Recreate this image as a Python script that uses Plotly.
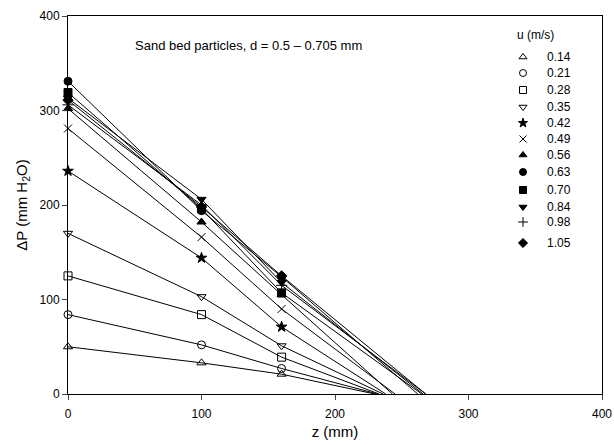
import plotly.graph_objects as go

# ---------------- data ----------------
velocities = ["0.14", "0.21", "0.28", "0.35", "0.42", "0.49",
              "0.56", "0.63", "0.70", "0.84", "0.98", "1.05"]
z_points = [0, 100, 160]
dp_z0 = [50, 84, 125, 170, 236, 281, 302, 331, 319, 313, 306, 311]
dp_z100 = [33, 52, 84, 103, 144, 166, 182, 194, 196, 206, 200, 198]
dp_z160 = [21, 27, 39, 51, 71, 90, 105, 124, 107, 118, 115, 125]
z_bed_end = [230, 232, 233, 236, 238, 245, 243, 262, 265, 266, 268, 268]

symbols = ["triangle-up-open", "circle-open", "square-open", "triangle-down-open",
           "star", "x-thin-open", "triangle-up", "circle", "square",
           "triangle-down", "cross-thin-open", "diamond"]

x_ticks = [0, 100, 200, 300, 400]
y_ticks = [0, 100, 200, 300, 400]

FONT = "Liberation Sans, Arial, sans-serif"

fig = go.Figure()

for i, u in enumerate(velocities):
    zs = z_points + [z_bed_end[i]]
    ps = [dp_z0[i], dp_z100[i], dp_z160[i], 0]
    fig.add_trace(go.Scatter(x=zs, y=ps, mode="lines",
                             line=dict(color="black", width=1),
                             showlegend=False, hoverinfo="skip"))
for i, u in enumerate(velocities):
    ps = [dp_z0[i], dp_z100[i], dp_z160[i]]
    fig.add_trace(go.Scatter(x=z_points, y=ps, mode="markers", name=u,
                             marker=dict(symbol=symbols[i], size=8, color="black",
                                         line=dict(color="black", width=1)),
                             showlegend=False, cliponaxis=False))

# custom legend in pixel-like overlay coordinates
leg_y = [57, 73, 90, 107, 123, 139, 155, 172, 190, 207, 222, 243]
fig.add_trace(go.Scatter(x=[523] * len(velocities), y=leg_y, mode="markers",
                         xaxis="x2", yaxis="y2", showlegend=False, hoverinfo="skip",
                         marker=dict(symbol=symbols, size=7, color="black",
                                     line=dict(color="black", width=1))))
annotations = []
for u, yy in zip(velocities, leg_y):
    annotations.append(dict(x=545, y=yy, xref="x2", yref="y2", text=u,
                            showarrow=False, xanchor="left", yanchor="middle",
                            font=dict(family=FONT, size=12, color="black")))
annotations.append(dict(x=515, y=35, xref="x2", yref="y2", text="u (m/s)",
                        showarrow=False, xanchor="left", yanchor="middle",
                        font=dict(family=FONT, size=12, color="black")))
annotations.append(dict(x=133, y=45, xref="x2", yref="y2",
                        text="Sand bed particles, d = 0.5 \u2013 0.705 mm",
                        showarrow=False, xanchor="left", yanchor="middle",
                        font=dict(family=FONT, size=13, color="black")))

fig.update_layout(
    width=614, height=445,
    margin=dict(l=68, r=12, t=16, b=51),
    paper_bgcolor="white", plot_bgcolor="white",
    font=dict(family=FONT, size=12, color="black"),
    annotations=annotations,
    xaxis=dict(range=[0, 400], tickvals=x_ticks, ticks="outside", ticklen=5,
               showgrid=False, zeroline=False, showline=True, linecolor="black",
               linewidth=1, mirror=True, automargin=False, ticklabelstandoff=4,
               title=dict(text="z (mm)", font=dict(size=15), standoff=6)),
    yaxis=dict(range=[0, 400], tickvals=y_ticks, ticks="outside", ticklen=5,
               showgrid=False, zeroline=False, showline=True, linecolor="black",
               linewidth=1, mirror=True, automargin=False,
               title=dict(text="\u0394P (mm H<sub>2</sub>O)", font=dict(size=15), standoff=8)),
    xaxis2=dict(range=[68, 602], overlaying="x", visible=False, fixedrange=True),
    yaxis2=dict(range=[394, 16], overlaying="y", visible=False, fixedrange=True),
)

fig.write_html(
    "out.html",
    config={"displayModeBar": False},
    post_script="document.body.style.margin='0';document.body.style.overflow='hidden';",
)
